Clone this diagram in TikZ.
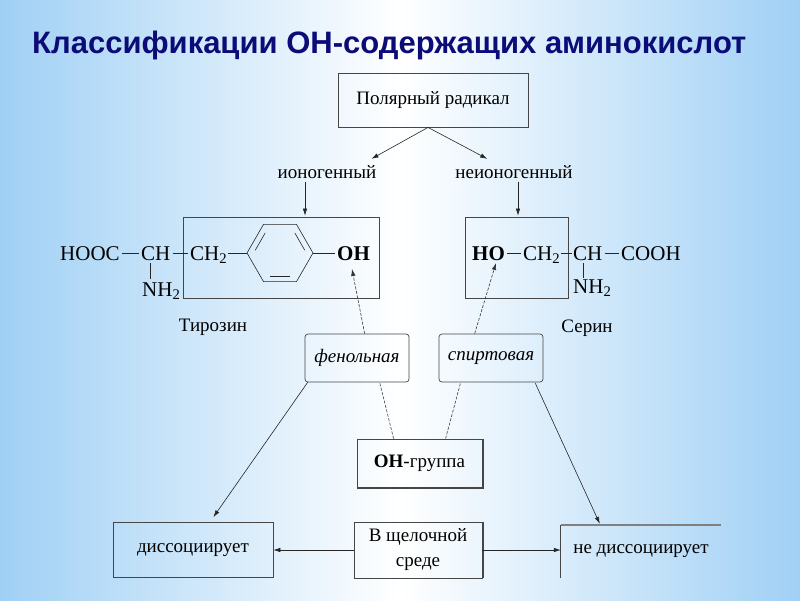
\documentclass[tikz,border=0pt]{standalone}
\usepackage{fontspec}
\setmainfont{Liberation Serif}
\newfontfamily\titlefont{Liberation Sans}
\usetikzlibrary{arrows.meta,calc}
\definecolor{bgb}{RGB}{160,208,245}
\definecolor{navy}{RGB}{12,12,120}
\definecolor{lgray}{RGB}{70,70,70}
\newcommand{\lblfont}{\fontsize{19}{23}\selectfont}
\newcommand{\chemfont}{\fontsize{21}{24}\selectfont}
\begin{document}
\begin{tikzpicture}[x=1pt,y=-1pt,
  box/.style={draw=lgray, line width=0.8pt, inner sep=0pt, font=\lblfont},
  rbox/.style={draw=lgray, line width=0.7pt, rounded corners=3pt, inner sep=0pt, font=\lblfont\itshape},
  frame/.style={draw=lgray, line width=0.8pt, inner sep=0pt},
  lab/.style={inner sep=0pt, minimum height=18pt, font=\lblfont},
  chem/.style={inner sep=0pt, anchor=base west, font=\chemfont},
  bond/.style={draw=black!85, line width=0.6pt},
  arr/.style={draw=black!85, line width=0.6pt, -{Latex[length=7pt,width=4.5pt]}},
  darr/.style={draw=black!80, line width=0.6pt, dash pattern=on 3pt off 1.5pt, -{Latex[length=7pt,width=4.5pt]}},
  dsh/.style={draw=black!75, line width=0.6pt, dash pattern=on 3pt off 1.5pt}]
\useasboundingbox (0,0) rectangle (800,600);
\shade[left color=bgb, right color=bgb, middle color=white] (0,0) rectangle (800,600);

% title
\node[anchor=base west, inner sep=0pt, font=\titlefont\bfseries\fontsize{31}{35}\selectfont, text=navy] (title) at (32,53) {Классификации ОН-содержащих аминокислот};

% top
\node[box, minimum width=190, minimum height=54] (polar) at (433,100) {Полярный радикал};
\node[lab] (ion) at (327,172) {ионогенный};
\node[lab] (nonion) at (514,172) {неионогенный};
\draw[arr] ($(polar.south)+(-5,0)$) -- ($(ion.north east)+(-5,-4)$);
\draw[arr] ($(polar.south)+(-5,0)$) -- ($(nonion.north west)+(32,-4)$);

% frames
\node[frame, minimum width=196, minimum height=81] (tyrbox) at (281,257.5) {};
\node[frame, minimum width=103, minimum height=81] (serbox) at (516.5,257.5) {};
\draw[arr] ($(ion.south)+(-22,1)$) -- ($(tyrbox.north)+(24,-1)$);
\draw[arr] ($(nonion.south)+(4,1)$) -- ($(serbox.north)+(1.5,-1)$);

% tyrosine
\node[chem] (hooc) at (60,260) {HOOC};
\node[chem] (ch1) at (141,260) {CH};
\node[chem] (ch2t) at (190,260) {CH\textsubscript{2}};
\node[chem, font=\chemfont\bfseries] (oht) at (337,260) {OH};
\node[chem] (nh2t) at (142,296) {NH\textsubscript{2}};
\coordinate (rc) at (280,253);
\coordinate (rL) at ($(rc)+(-33,0)$);
\coordinate (rTL) at ($(rc)+(-16.5,-28.6)$);
\coordinate (rTR) at ($(rc)+(16.5,-28.6)$);
\coordinate (rR) at ($(rc)+(33,0)$);
\coordinate (rBR) at ($(rc)+(16.5,28.6)$);
\coordinate (rBL) at ($(rc)+(-16.5,28.6)$);
\draw[bond] (rL) -- (rTL) -- (rTR) -- (rR) -- (rBR) -- (rBL) -- cycle;
\draw[bond] ($(rc)+(-24.8,-2.7)$) -- ($(rc)+(-14.8,-20.1)$);
\draw[bond] ($(rc)+(14.8,-20.1)$) -- ($(rc)+(24.8,-2.7)$);
\draw[bond] ($(rc)+(10,22.9)$) -- ($(rc)+(-10,22.9)$);
\draw[bond] ($(hooc.base east)+(2,-7)$) -- ($(ch1.base west)+(-2,-7)$);
\draw[bond] ($(ch1.base east)+(2,-7)$) -- ($(ch2t.base west)+(-2,-7)$);
\draw[bond] ($(ch2t.base east)+(1,-7)$) -- (rL);
\draw[bond] (rR) -- ($(oht.base west)+(-2,-7)$);
\draw[bond] ($(ch1.base west)+(9,3)$) -- ($(nh2t.base west)+(8,-17)$);
\node[lab] (tyrname) at (213,327) {Тирозин};

% serine
\node[chem, font=\chemfont\bfseries] (hos) at (472,260) {HO};
\node[chem] (ch2s) at (523,260) {CH\textsubscript{2}};
\node[chem] (chs) at (573,260) {CH};
\node[chem] (cooh) at (621,260) {COOH};
\node[chem] (nh2s) at (573,293) {NH\textsubscript{2}};
\draw[bond] ($(hos.base east)+(2,-7)$) -- ($(ch2s.base west)+(-2,-7)$);
\draw[bond] ($(ch2s.base east)+(1,-7)$) -- ($(chs.base west)+(-1,-7)$);
\draw[bond] ($(chs.base east)+(2,-7)$) -- ($(cooh.base west)+(-2,-7)$);
\draw[bond] ($(chs.base west)+(10,3)$) -- ($(nh2s.base west)+(10,-15)$);
\node[lab] (sername) at (587,328) {Серин};

% OH types
\node[rbox, minimum width=104, minimum height=48] (phen) at (357,358) {фенольная};
\node[rbox, minimum width=104, minimum height=48] (alc) at (491,358) {спиртовая};
\draw[darr] ($(phen.north west)+(60,0)$) -- ($(oht.base west)+(15,9)$);
\draw[darr] ($(alc.north west)+(36,0)$) -- ($(hos.base west)+(24,3)$);

% OH group
\node[box, minimum width=125, minimum height=48] (ohg) at (419.5,463) {\textbf{ОН}-группа};
\draw[lgray, line width=1.6pt] ($(ohg.north east)+(0.6,0)$) -- ($(ohg.south east)+(0.6,0.6)$) -- ($(ohg.south west)+(0,0.6)$);
\draw[dsh] ($(ohg.north west)+(37,0)$) -- ($(phen.south west)+(75,0)$);
\draw[dsh] ($(ohg.north west)+(89,0)$) -- ($(alc.south west)+(22,0)$);

% bottom
\node[box, minimum width=160, minimum height=55] (diss) at (193,550) {диссоциирует};
\node[box, minimum width=128, minimum height=56, align=center, font=\fontsize{19}{25}\selectfont] (alk) at (418,550) {В щелочной\\среде};
\draw[lgray, line width=1.5pt] ($(alk.north east)+(0.5,0)$) -- ($(alk.south east)+(0.5,0)$);
\node[inner sep=0pt, minimum width=160, minimum height=53, font=\lblfont] (nd) at (641,551.5) {не диссоциирует};
\draw[lgray, line width=0.8pt] (nd.south west) -- (nd.north west);
\draw[gray, line width=1.8pt] (nd.north west) -- (nd.north east);

\draw[arr] ($(phen.south west)+(3,0)$) -- ($(diss.north east)+(-60,-5)$);
\draw[arr] ($(alc.south east)+(-8,1)$) -- ($(nd.north west)+(39,-1)$);
\draw[arr] (alk.west) -- (diss.east);
\draw[arr] (alk.east) -- (alk.east -| nd.west);
\end{tikzpicture}
\end{document}
